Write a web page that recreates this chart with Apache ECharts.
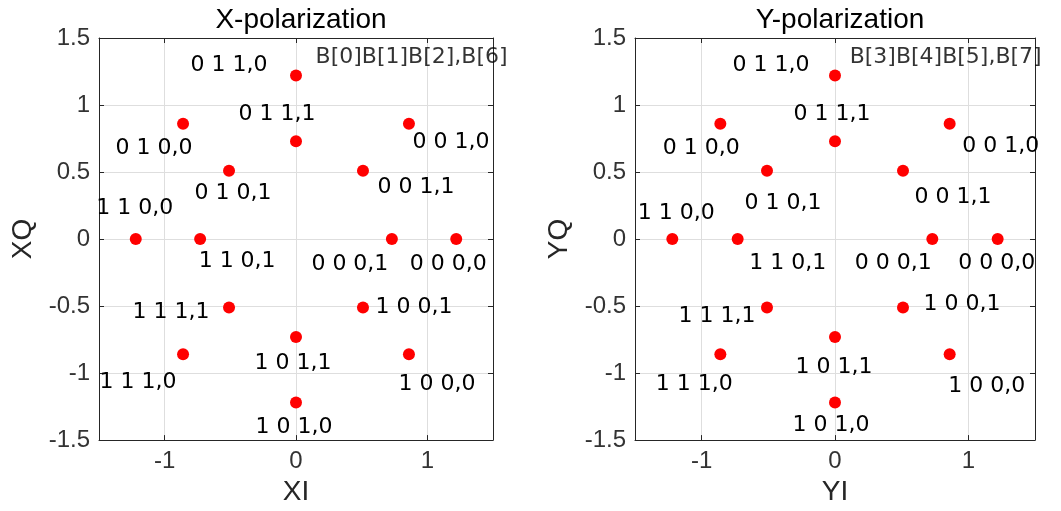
<!DOCTYPE html>
<html>
<head>
<meta charset="utf-8">
<script src="https://cdn.jsdelivr.net/npm/echarts@6/dist/echarts.min.js"></script>
<style>
  html, body { margin: 0; padding: 0; background: #fff; }
  #chart { width: 1061px; height: 511px; }
</style>
</head>
<body>
<div id="chart"></div>
<script>
// constellation points (same in both polarizations)
const pointI = [1.22, 0.73, 0.86, 0.51, 0, 0, -0.86, -0.51, -1.22, -0.73, -0.86, -0.51, 0, 0, 0.86, 0.51];
const pointQ = [0, 0, 0.86, 0.51, 1.22, 0.73, 0.86, 0.51, 0, 0, -0.86, -0.51, -1.22, -0.73, -0.86, -0.51];
const bitLabels = ['0 0 0,0', '0 0 0,1', '0 0 1,0', '0 0 1,1', '0 1 1,0', '0 1 1,1', '0 1 0,0', '0 1 0,1',
                   '1 1 0,0', '1 1 0,1', '1 1 1,0', '1 1 1,1', '1 0 1,0', '1 0 1,1', '1 0 0,0', '1 0 0,1'];
const plotTitles = ['X-polarization', 'Y-polarization'];
const iNames = ['XI', 'YI'];
const qNames = ['XQ', 'YQ'];
const bitOrder = ['B[0]B[1]B[2],B[6]', 'B[3]B[4]B[5],B[7]'];
const bitOrderAt = [[0.88, 1.355], [0.83, 1.355]];
const iTicks = [-1, 0, 1];

// label offsets (px) for each point, per plot
const labelOffsets = [
  [[-8, 25], [-42, 25], [42, 18], [53, 17], [-67, -10], [-19, -27], [-29, 24], [4, 23],
   [-1, -31], [37, 22], [-45, 28], [-58, 5], [-2, 25], [-3, 26], [28, 30], [51, 0]],
  [[-1, 24], [-39, 24], [51, 22], [50, 27], [-64, -10], [-3, -27], [-19, 24], [16, 33],
   [4, -26], [50, 24], [-26, 30], [-50, 9], [-4, 23], [-1, 30], [37, 32], [59, -3]]
];

const grids = [
  { left: 99, top: 38, width: 394, height: 405 },
  { left: 635, top: 38, width: 400, height: 405 }
];

const boxColor = '#262626';
const gridColor = '#dedede';
const labelFont = '"DejaVu Sans", sans-serif';
const axisFont = '"Liberation Sans", Arial, sans-serif';

const chart = echarts.init(document.getElementById('chart'));

const title = [], xAxis = [], yAxis = [], series = [];

grids.forEach(function (g, k) {
  title.push({
    text: plotTitles[k],
    left: g.left + g.width / 2,
    top: 1,
    textAlign: 'center',
    textStyle: { fontFamily: axisFont, fontSize: 28, fontWeight: 'normal', color: '#000' }
  });

  // bottom I axis
  xAxis.push({
    gridIndex: k, type: 'value', min: -1.5, max: 1.5,
    name: iNames[k], nameLocation: 'middle', nameGap: 36,
    nameTextStyle: { fontFamily: axisFont, fontSize: 28, color: '#262626' },
    axisLine: { show: true, onZero: false, lineStyle: { color: boxColor, width: 1 } },
    axisTick: { show: true, inside: true, length: 5, customValues: iTicks, lineStyle: { color: boxColor } },
    axisLabel: { customValues: iTicks, margin: 9, fontFamily: axisFont, fontSize: 24, color: '#333' },
    splitLine: { show: true, lineStyle: { color: gridColor, width: 1 } }
  });
  // top box edge
  xAxis.push({
    gridIndex: k, type: 'value', min: -1.5, max: 1.5, position: 'top',
    axisLine: { show: true, onZero: false, lineStyle: { color: boxColor, width: 1 } },
    axisTick: { show: true, inside: true, length: 5, customValues: iTicks, lineStyle: { color: boxColor } },
    axisLabel: { show: false },
    splitLine: { show: false }
  });
  // left Q axis
  yAxis.push({
    gridIndex: k, type: 'value', min: -1.5, max: 1.5, interval: 0.5,
    name: qNames[k], nameLocation: 'middle', nameGap: 62,
    nameTextStyle: { fontFamily: axisFont, fontSize: 28, color: '#262626' },
    axisLine: { show: true, onZero: false, lineStyle: { color: boxColor, width: 1 } },
    axisTick: { show: true, inside: true, length: 5, lineStyle: { color: boxColor } },
    axisLabel: { margin: 9, fontFamily: axisFont, fontSize: 24, color: '#333' },
    splitLine: { show: true, lineStyle: { color: gridColor, width: 1 } }
  });
  // right box edge
  yAxis.push({
    gridIndex: k, type: 'value', min: -1.5, max: 1.5, interval: 0.5, position: 'right',
    axisLine: { show: true, onZero: false, lineStyle: { color: boxColor, width: 1 } },
    axisTick: { show: true, inside: true, length: 5, lineStyle: { color: boxColor } },
    axisLabel: { show: false },
    splitLine: { show: false }
  });

  const pts = pointI.map(function (v, i) {
    return {
      value: [v, pointQ[i]],
      label: { offset: labelOffsets[k][i] }
    };
  });

  series.push({
    type: 'scatter',
    xAxisIndex: k * 2, yAxisIndex: k * 2,
    symbolSize: 12,
    itemStyle: { color: '#ff0000', opacity: 1 },
    label: {
      show: true, position: 'inside',
      formatter: function (p) { return bitLabels[p.dataIndex]; },
      fontFamily: labelFont, fontSize: 22, color: '#000'
    },
    emphasis: { disabled: true },
    data: pts,
    z: 3
  });

  // bit order note
  series.push({
    type: 'scatter',
    xAxisIndex: k * 2, yAxisIndex: k * 2,
    symbolSize: 0,
    itemStyle: { color: '#000' },
    label: {
      show: true, position: 'inside',
      formatter: bitOrder[k],
      fontFamily: labelFont, fontSize: 22, color: '#000',
      textBorderWidth: 0
    },
    emphasis: { disabled: true },
    data: [bitOrderAt[k]],
    clip: false,
    z: 4
  });
});

chart.setOption({
  backgroundColor: '#fff',
  animation: false,
  title: title,
  grid: grids,
  xAxis: xAxis,
  yAxis: yAxis,
  series: series
});
</script>
</body>
</html>
